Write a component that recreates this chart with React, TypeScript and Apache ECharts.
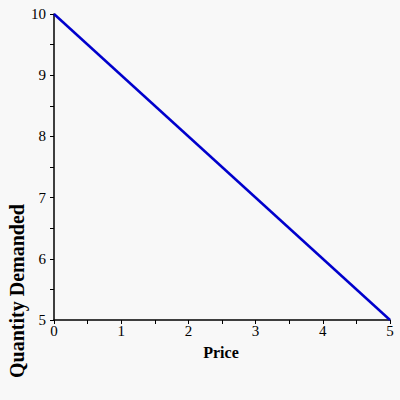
import React, { useEffect, useRef } from "react";
import * as echarts from "echarts";

const prices = [0, 5];
const quantities = [10, 5];
const xTitle = "Price";
const yTitle = "Quantity Demanded";

export default function App() {
  const ref = useRef<HTMLDivElement>(null);
  useEffect(() => {
    const chart = echarts.init(ref.current!, null, { renderer: "svg" });
    const font = "'Liberation Serif', 'Times New Roman', serif";
    chart.setOption({
      animation: false,
      backgroundColor: "#f8f8f8",
      grid: { left: 54, right: 10, top: 14, bottom: 80 },
      xAxis: {
        type: "value",
        min: 0,
        max: 5,
        interval: 0.5,
        axisLine: { lineStyle: { color: "#000", width: 1.5 } },
        axisTick: { show: true, length: 4, lineStyle: { color: "#000" } },
        splitLine: { show: false },
        axisLabel: {
          color: "#000",
          fontFamily: font,
          fontSize: 15,
          margin: 3,
          formatter: (v: number) => (Number.isInteger(v) ? String(v) : ""),
        },
      },
      yAxis: {
        type: "value",
        min: 5,
        max: 10,
        interval: 0.5,
        axisLine: { show: true, lineStyle: { color: "#000", width: 1.5 } },
        axisTick: { show: true, length: 4, lineStyle: { color: "#000" } },
        splitLine: { show: false },
        axisLabel: {
          color: "#000",
          fontFamily: font,
          fontSize: 15,
          margin: 8,
          formatter: (v: number) => (Number.isInteger(v) ? String(v) : ""),
        },
      },
      graphic: [
        {
          type: "text",
          x: 221,
          y: 352,
          style: {
            text: xTitle,
            font: `bold 16px ${font}`,
            fill: "#000",
            textAlign: "center",
            textVerticalAlign: "middle",
          },
        },
        {
          type: "text",
          x: 17,
          y: 291,
          rotation: Math.PI / 2,
          style: {
            text: yTitle,
            font: `bold 20px ${font}`,
            fill: "#000",
            textAlign: "center",
            textVerticalAlign: "middle",
          },
        },
      ],
      series: [
        {
          type: "line",
          data: prices.map((p, i) => [p, quantities[i]]),
          showSymbol: false,
          lineStyle: { color: "#0000cc", width: 2.5 },
        },
      ],
    });
    return () => chart.dispose();
  }, []);
  return <div ref={ref} style={{ width: 400, height: 400, position: "absolute", left: 0, top: 0 }} />;
}
